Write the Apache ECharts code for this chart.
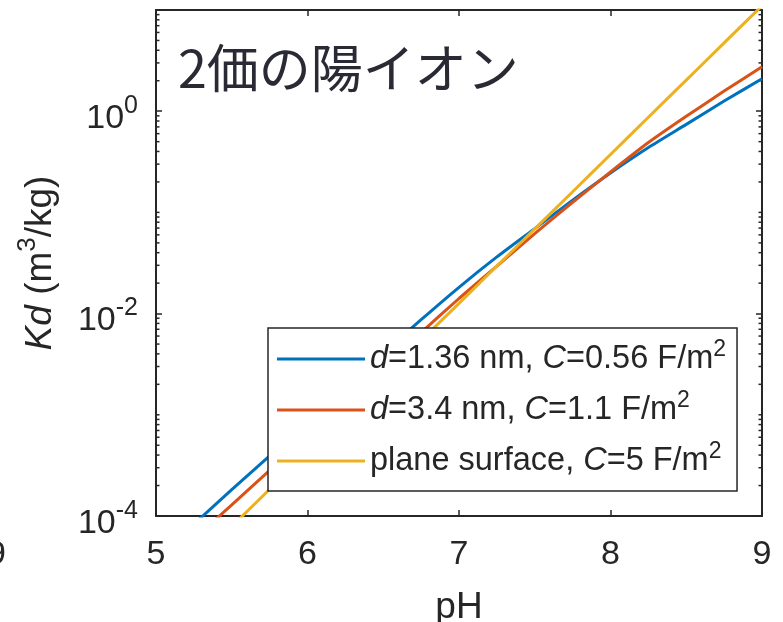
<!DOCTYPE html>
<html>
<head>
<meta charset="utf-8">
<script src="https://cdn.jsdelivr.net/npm/echarts@6/dist/echarts.min.js"></script>
<style>
  html, body { margin: 0; padding: 0; background: #fff; }
  #main { width: 783px; height: 622px; }
</style>
</head>
<body>
<div id="main"></div>
<script>
// pH grid and Kd (m3/kg) values
var phValues = [5.25, 5.5, 6.0, 6.5, 6.75, 7.0, 7.25, 7.5, 7.75, 8.0, 8.25, 8.5, 8.75, 9.0];
var kdSmall = [8.3e-5, 1.82e-4, 8.5e-4, 4.07e-3, 8.71e-3, 1.82e-2, 3.63e-2, 6.92e-2, 0.132, 0.245, 0.437, 0.741, 1.26, 2.09];
var kdLarge = [5.9e-5, 1.29e-4, 6.2e-4, 2.95e-3, 6.5e-3, 1.41e-2, 2.95e-2, 6.17e-2, 0.126, 0.251, 0.490, 0.891, 1.58, 2.75];
var kdPlane = [3.39e-5, 7.89e-5, 4.28e-4, 2.33e-3, 5.43e-3, 1.26e-2, 2.95e-2, 6.87e-2, 0.160, 0.373, 0.871, 2.03, 4.73, 11.0];

var seriesNames = ['d=1.36 nm, C=0.56 F/m2', 'd=3.4 nm, C=1.1 F/m2', 'plane surface, C=5 F/m2'];
var legendLabels = [
  '{i|d}=1.36 nm, {i|C}=0.56 F/m{s|2}',
  '{i|d}=3.4 nm, {i|C}=1.1 F/m{s|2}',
  'plane surface, {i|C}=5 F/m{s|2}'
];
var colors = ['#0072BD', '#D95319', '#EDB120'];

var xTicks = [5, 6, 7, 8, 9];
var yLabelExps = [-4, -2, 0];
var minorTicks = [];
for (var n = -4; n <= 0; n++) {
  for (var k = 1; k <= 9; k++) {
    if (k === 1 && yLabelExps.indexOf(n) >= 0) continue;
    minorTicks.push([5, k * Math.pow(10, n)]);
  }
}

var fontMain = 'Liberation Sans, Arial, sans-serif';
var axisColor = '#262626';

function pairs(ys) {
  return phValues.map(function (x, i) { return [x, ys[i]]; });
}

var chart = echarts.init(document.getElementById('main'));

var yAxisBase = {
  type: 'log',
  logBase: 10,
  min: 1e-4,
  max: 10,
  interval: 2,
  splitLine: { show: false },
  axisLine: { show: true, lineStyle: { color: axisColor, width: 2 } },
  axisTick: { show: true, inside: true, length: 6, lineStyle: { color: axisColor, width: 1.5 } },
  minorTick: { show: false }
};

var option = {
  animation: false,
  backgroundColor: '#fff',
  title: {
    text: '2価の陽イオン',
    left: 178,
    top: 42,
    padding: 0,
    textStyle: { fontFamily: 'Noto Sans CJK JP', fontSize: 52, fontWeight: 'normal', color: '#2a2a35' }
  },
  grid: { left: 156, right: 21, top: 10, bottom: 106, outerBoundsMode: 'none', containLabel: false },
  legend: {
    data: seriesNames,
    orient: 'vertical',
    left: 268,
    top: 328,
    itemWidth: 88,
    itemHeight: 3,
    itemGap: 9,
    icon: 'rect',
    padding: [10, 11, 9, 9],
    backgroundColor: '#fff',
    borderColor: axisColor,
    borderWidth: 1.5,
    borderRadius: 0,
    z: 10,
    formatter: function (name) {
      return legendLabels[seriesNames.indexOf(name)];
    },
    textStyle: {
      fontFamily: fontMain,
      fontSize: 32.5,
      color: axisColor,
      lineHeight: 40,
      rich: {
        i: { fontFamily: fontMain, fontSize: 32.5, fontStyle: 'italic', color: axisColor },
        s: { fontFamily: fontMain, fontSize: 23, height: 23, lineHeight: 23, padding: [0, 0, 19, 0], color: axisColor }
      }
    }
  },
  xAxis: [
    {
      type: 'value',
      min: 5,
      max: 9,
      interval: 1,
      name: 'pH',
      nameLocation: 'middle',
      nameGap: 73,
      nameTextStyle: { fontFamily: fontMain, fontSize: 37, color: axisColor, lineHeight: 37 },
      splitLine: { show: false },
      axisLine: { show: true, onZero: false, lineStyle: { color: axisColor, width: 2 } },
      axisTick: { show: true, inside: true, length: 6, lineStyle: { color: axisColor, width: 1.5 } },
      axisLabel: {
        margin: 22,
        fontFamily: fontMain,
        fontSize: 34,
        lineHeight: 34,
        color: axisColor,
        formatter: function (v) { return xTicks.indexOf(v) >= 0 ? String(v) : ''; }
      }
    },
    {
      type: 'value',
      position: 'top',
      min: 5,
      max: 9,
      interval: 1,
      splitLine: { show: false },
      axisLine: { show: true, onZero: false, lineStyle: { color: axisColor, width: 2 } },
      axisTick: { show: true, inside: true, length: 6, lineStyle: { color: axisColor, width: 1.5 } },
      axisLabel: { show: false }
    }
  ],
  yAxis: [
    Object.assign({}, yAxisBase, {
      position: 'left',
      name: '{i|Kd} (m{s|3}/kg)',
      nameLocation: 'middle',
      nameRotate: 90,
      nameGap: 88,
      nameTextStyle: {
        fontFamily: fontMain,
        fontSize: 37,
        color: axisColor,
        rich: {
          i: { fontFamily: fontMain, fontSize: 37, fontStyle: 'italic', color: axisColor },
          s: { fontFamily: fontMain, fontSize: 26, height: 26, lineHeight: 26, padding: [0, 0, 26, 0], color: axisColor }
        }
      },
      axisLabel: {
        margin: 18,
        color: axisColor,
        formatter: function (v) {
          var e = Math.round(Math.log10(v));
          if (yLabelExps.indexOf(e) < 0) return '';
          return '{b|10}{s|' + e + '}';
        },
        rich: {
          b: { fontFamily: fontMain, fontSize: 34, height: 34, lineHeight: 34, padding: [15, 0, 0, 0], color: axisColor },
          s: { fontFamily: fontMain, fontSize: 25, height: 25, lineHeight: 25, padding: [0, 0, 10, 0], color: axisColor }
        }
      }
    }),
    Object.assign({}, yAxisBase, {
      position: 'right',
      axisLabel: { show: false }
    })
  ],
  series: [
    {
      type: 'custom',
      name: 'minor ticks',
      xAxisIndex: 0,
      yAxisIndex: 0,
      silent: true,
      data: minorTicks,
      renderItem: function (params, api) {
        var v = api.value(1);
        var l = api.coord([5, v]);
        var r = api.coord([9, v]);
        return {
          type: 'group',
          children: [
            { type: 'line', shape: { x1: l[0], y1: l[1], x2: l[0] + 3.5, y2: l[1] }, style: { stroke: axisColor, lineWidth: 1.5 } },
            { type: 'line', shape: { x1: r[0], y1: r[1], x2: r[0] - 3.5, y2: r[1] }, style: { stroke: axisColor, lineWidth: 1.5 } }
          ]
        };
      }
    },
    {
      name: seriesNames[0], type: 'line', data: pairs(kdSmall), smooth: 0.2,
      showSymbol: false, symbol: 'none', lineStyle: { width: 3, color: colors[0] }, itemStyle: { color: colors[0] }
    },
    {
      name: seriesNames[1], type: 'line', data: pairs(kdLarge), smooth: 0.2,
      showSymbol: false, symbol: 'none', lineStyle: { width: 3, color: colors[1] }, itemStyle: { color: colors[1] }
    },
    {
      name: seriesNames[2], type: 'line', data: pairs(kdPlane), smooth: 0.2,
      showSymbol: false, symbol: 'none', lineStyle: { width: 3, color: colors[2] }, itemStyle: { color: colors[2] }
    }
  ],
  graphic: [
    {
      type: 'text',
      x: -13,
      y: 555,
      silent: true,
      style: { text: '9', fontFamily: fontMain, fontSize: 34, fill: axisColor, verticalAlign: 'middle' }
    }
  ]
};

chart.setOption(option);
</script>
</body>
</html>
